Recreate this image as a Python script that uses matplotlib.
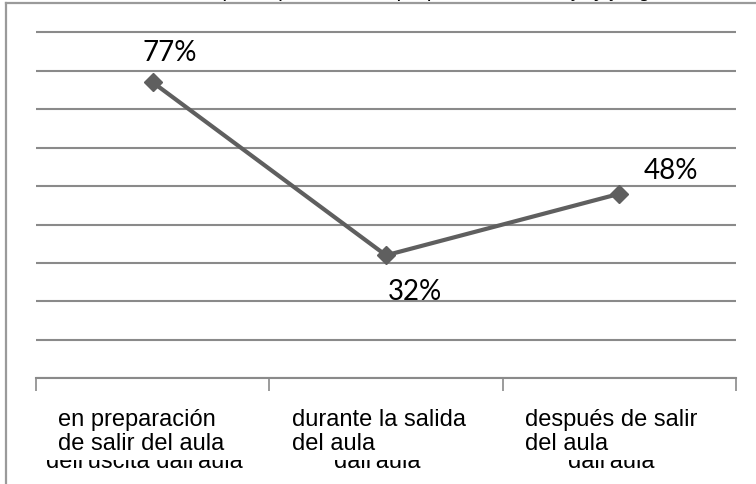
import matplotlib.pyplot as plt
from matplotlib.lines import Line2D
from matplotlib.patches import Rectangle

# datos
momentos = ["en preparación\nde salir del aula",
            "durante la salida\ndel aula",
            "después de salir\ndel aula"]
momentos_it = ["dell'uscita dall'aula", "dall'aula", "dall'aula"]
porcentajes = [0.77, 0.32, 0.48]
etiquetas = ["77%", "32%", "48%"]
titulo = "Momentos de participación en la propuesta de trabajo y juego"

W, H = 756, 485
fig = plt.figure(figsize=(W / 100, H / 100), dpi=100)
ax = fig.add_axes([36 / W, (H - 379.3) / H, 700 / W, 384.4 / H])

x = list(range(len(porcentajes)))
ax.plot(x, porcentajes, color="#5f5f5f", lw=3, marker="D", ms=9,
        markerfacecolor="#5f5f5f", markeredgecolor="#5f5f5f", zorder=3)

ax.set_xlim(-0.5, 2.5)
ax.set_ylim(0, 1)
ax.set_yticks([i / 10 for i in range(11)])
ax.yaxis.grid(True, color="#8a8a8a", lw=1.5)
ax.set_axisbelow(True)
ax.tick_params(axis="y", length=0, labelleft=False)
ax.set_xticks([-0.5, 0.5, 1.5, 2.5])
ax.set_xticklabels([])
ax.tick_params(axis="x", length=9, width=1.2, color="#8a8a8a", direction="out")
for s in ["top", "left", "right"]:
    ax.spines[s].set_visible(False)
ax.spines["bottom"].set_color("#8a8a8a")
ax.spines["bottom"].set_linewidth(1.5)

# etiquetas de datos
offsets = [(12.5, 22), (21, -26), (37, 17)]
for xi, yi, t, (dx, dy) in zip(x, porcentajes, etiquetas, offsets):
    ax.annotate(t, (xi, yi), xytext=(dx, dy), textcoords="offset points",
                ha="center", va="center", fontsize=20, family="Lato")

# texto italiano que queda tapado
for xi, t in zip(x, momentos_it):
    ax.annotate(t, (xi, 0), xytext=(-6, -64), textcoords="offset points",
                ha="center", va="baseline", fontsize=17,
                family="Liberation Sans", annotation_clip=False)
fig.add_artist(Rectangle((38 / W, (H - 461) / H), 697 / W, 66 / H,
                         transform=fig.transFigure, facecolor="white",
                         edgecolor="none", zorder=5))
for i, t in enumerate(momentos):
    fig.text((58 + 234.5 * i - 1 * i) / W, (H - 450) / H, t, ha="left",
             va="baseline", fontsize=17, family="Liberation Sans",
             linespacing=1.12, zorder=6)

# marco exterior y titulo cortado
fig.add_artist(Line2D([6 / W, 6 / W], [0, (H - 4) / H], color="#9a9a9a", lw=1.6))
fig.add_artist(Line2D([6 / W, 1], [(H - 4) / H, (H - 4) / H], color="#9a9a9a", lw=1.6))
fig.text(0.5, (H + 3) / H, titulo, ha="center", va="baseline", fontsize=15,
         style="italic", family="Liberation Sans")

fig.savefig("out.png", dpi=100)
